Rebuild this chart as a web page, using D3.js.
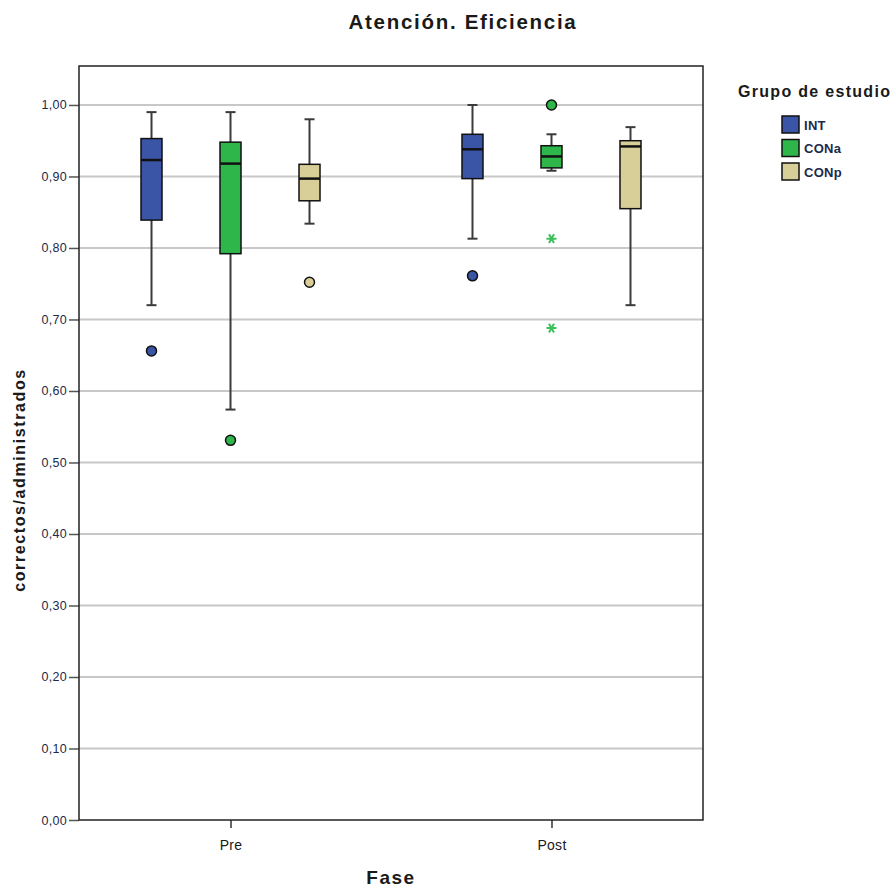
<!DOCTYPE html>
<html>
<head>
<meta charset="utf-8">
<script src="https://cdn.jsdelivr.net/npm/d3@7"></script>
<style>
  body { margin: 0; background: #fff; }
  text { font-family: "Liberation Sans", Arial, sans-serif; }
</style>
</head>
<body>
<script>
const width = 895;
const height = 888;
const margin = { top: 66, right: 192, bottom: 68, left: 79 };

const phases = ["Pre", "Post"];
const groups = ["INT", "CONa", "CONp"];
const colors = ["#3a55a6", "#2fb64a", "#d7cf97"];
const yTicks = [0, 0.1, 0.2, 0.3, 0.4, 0.5, 0.6, 0.7, 0.8, 0.9, 1.0];

// [whisker low, q1, median, q3, whisker high] per phase, per group
const boxPre = [
  [0.720, 0.839, 0.923, 0.953, 0.990],
  [0.574, 0.792, 0.918, 0.948, 0.990],
  [0.834, 0.866, 0.897, 0.917, 0.980]
];
const boxPost = [
  [0.813, 0.897, 0.938, 0.959, 1.000],
  [0.908, 0.912, 0.928, 0.943, 0.959],
  [0.720, 0.855, 0.942, 0.950, 0.969]
];
// outliers (circles) and extremes (stars)
const outliersPre = [[0.656], [0.531], [0.752]];
const outliersPost = [[0.761], [1.000], []];
const extremesPre = [[], [], []];
const extremesPost = [[], [0.813, 0.688], []];

const rows = [];
phases.forEach((p, pi) => {
  const boxes = pi === 0 ? boxPre : boxPost;
  const outs = pi === 0 ? outliersPre : outliersPost;
  const ext = pi === 0 ? extremesPre : extremesPost;
  groups.forEach((g, gi) => {
    const b = boxes[gi];
    rows.push({ phase: p, group: g, gi: gi, lo: b[0], q1: b[1], med: b[2], q3: b[3], hi: b[4],
      outliers: outs[gi], extremes: ext[gi] });
  });
});

const svg = d3.select("body").append("svg")
  .attr("width", width)
  .attr("height", height);

const innerW = width - margin.left - margin.right;
const innerH = height - margin.top - margin.bottom;

const x = d3.scalePoint()
  .domain(phases)
  .range([margin.left, width - margin.right])
  .padding(0.472);

const xGroup = d3.scalePoint()
  .domain(groups)
  .range([-79, 79]);

const y = d3.scaleLinear()
  .domain([0, 1.0545])
  .range([height - margin.bottom, margin.top]);

const boxW = 21;
const capW = 10;

// title
svg.append("text")
  .attr("x", 463)
  .attr("y", 29)
  .attr("text-anchor", "middle")
  .attr("font-size", 20.5)
  .attr("font-weight", "bold")
  .attr("letter-spacing", 1.7)
  .attr("fill", "#1a1a1a")
  .text("Atención. Eficiencia");

// grid lines
svg.append("g")
  .selectAll("line")
  .data(yTicks.filter(d => d > 0))
  .enter()
  .append("line")
  .attr("x1", margin.left)
  .attr("x2", width - margin.right)
  .attr("y1", d => y(d))
  .attr("y2", d => y(d))
  .attr("stroke", "#c8c8c8")
  .attr("stroke-width", 2);

// y axis
const yAxis = d3.axisLeft(y)
  .tickValues(yTicks)
  .tickSize(10)
  .tickPadding(2)
  .tickFormat(d => d3.format(".2f")(d).replace(".", ","));

const yG = svg.append("g")
  .attr("transform", `translate(${margin.left},0)`)
  .call(yAxis);
yG.select(".domain").remove();
yG.selectAll(".tick line").attr("stroke", "#555").attr("stroke-width", 1.5);
yG.selectAll(".tick text")
  .attr("font-size", 12.5)
  .attr("font-family", "Liberation Sans, Arial, sans-serif")
  .attr("letter-spacing", 0.3)
  .attr("fill", "#1c2a4a");

// x axis
const xAxis = d3.axisBottom(x)
  .tickSize(8)
  .tickPadding(12);
const xG = svg.append("g")
  .attr("transform", `translate(0,${height - margin.bottom})`)
  .call(xAxis);
xG.select(".domain").remove();
xG.selectAll(".tick line").attr("stroke", "#333").attr("stroke-width", 1.5);
xG.selectAll(".tick text")
  .attr("font-size", 14)
  .attr("font-family", "Liberation Sans, Arial, sans-serif")
  .attr("letter-spacing", 0.3)
  .attr("fill", "#1a1a1a");

// frame
svg.append("rect")
  .attr("x", margin.left)
  .attr("y", margin.top)
  .attr("width", innerW)
  .attr("height", innerH)
  .attr("fill", "none")
  .attr("stroke", "#222")
  .attr("stroke-width", 1.5);

// axis titles
svg.append("text")
  .attr("x", 391)
  .attr("y", 884)
  .attr("text-anchor", "middle")
  .attr("font-size", 19)
  .attr("font-weight", "bold")
  .attr("letter-spacing", 1.5)
  .attr("fill", "#1a1a1a")
  .text("Fase");

svg.append("text")
  .attr("transform", `translate(25,${(margin.top + height - margin.bottom) / 2 + 37}) rotate(-90)`)
  .attr("text-anchor", "middle")
  .attr("font-size", 16)
  .attr("font-weight", "bold")
  .attr("letter-spacing", 1.6)
  .attr("fill", "#1a1a1a")
  .text("correctos/administrados");

// boxes
const bx = d => x(d.phase) + xGroup(d.group);
const boxG = svg.append("g")
  .selectAll("g")
  .data(rows)
  .enter()
  .append("g");

boxG.append("line")
  .attr("x1", bx).attr("x2", bx)
  .attr("y1", d => y(d.lo)).attr("y2", d => y(d.hi))
  .attr("stroke", "#3a3a3a")
  .attr("stroke-width", 2);

boxG.selectAll(".cap")
  .data(d => [d.lo, d.hi].map(v => ({ v: v, cx: bx(d) })))
  .enter()
  .append("line")
  .attr("x1", d => d.cx - capW / 2)
  .attr("x2", d => d.cx + capW / 2)
  .attr("y1", d => y(d.v))
  .attr("y2", d => y(d.v))
  .attr("stroke", "#3a3a3a")
  .attr("stroke-width", 2);

boxG.append("rect")
  .attr("x", d => bx(d) - boxW / 2)
  .attr("width", boxW)
  .attr("y", d => y(d.q3))
  .attr("height", d => y(d.q1) - y(d.q3))
  .attr("fill", d => colors[d.gi])
  .attr("stroke", "#111")
  .attr("stroke-width", 1.5);

boxG.append("line")
  .attr("x1", d => bx(d) - boxW / 2)
  .attr("x2", d => bx(d) + boxW / 2)
  .attr("y1", d => y(d.med))
  .attr("y2", d => y(d.med))
  .attr("stroke", "#111")
  .attr("stroke-width", 2.5);

boxG.selectAll(".out")
  .data(d => d.outliers.map(v => ({ v: v, cx: bx(d), gi: d.gi })))
  .enter()
  .append("circle")
  .attr("cx", d => d.cx)
  .attr("cy", d => y(d.v))
  .attr("r", 5)
  .attr("fill", d => colors[d.gi])
  .attr("stroke", "#111")
  .attr("stroke-width", 1.5);

const star = d3.symbol().type(d3.symbolAsterisk).size(70);
boxG.selectAll(".ext")
  .data(d => d.extremes.map(v => ({ v: v, cx: bx(d), gi: d.gi })))
  .enter()
  .append("path")
  .attr("d", star)
  .attr("transform", d => `translate(${d.cx},${y(d.v)}) rotate(90)`)
  .attr("fill", "none")
  .attr("stroke", "#3cc15a")
  .attr("stroke-width", 2);

// legend
svg.append("text")
  .attr("x", 738)
  .attr("y", 97)
  .attr("font-size", 16)
  .attr("font-weight", "bold")
  .attr("letter-spacing", 1.3)
  .attr("fill", "#1a1a1a")
  .text("Grupo de estudio");

const legend = svg.append("g")
  .selectAll("g")
  .data(groups)
  .enter()
  .append("g")
  .attr("transform", (d, i) => `translate(782,${116 + i * 23.5})`);

legend.append("rect")
  .attr("width", 17)
  .attr("height", 17)
  .attr("fill", (d, i) => colors[i])
  .attr("stroke", "#111")
  .attr("stroke-width", 1.5);

legend.append("text")
  .attr("x", 22)
  .attr("y", 13.5)
  .attr("font-size", 13)
  .attr("font-weight", "bold")
  .attr("letter-spacing", 0.3)
  .attr("fill", "#1c2a4a")
  .text(d => d);
</script>
</body>
</html>
